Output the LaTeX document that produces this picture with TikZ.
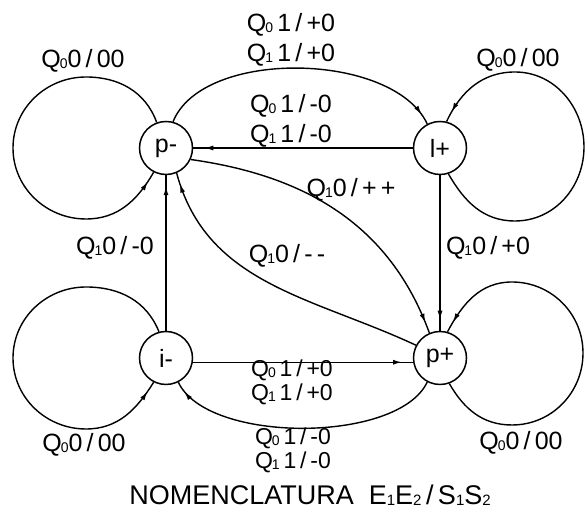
\documentclass[tikz,border=0pt]{standalone}
\usepackage{fontspec}
\setmainfont{Liberation Sans}
\usetikzlibrary{arrows.meta,decorations.markings}

% Q with a small index, as in Q0, Q1
\newcommand\Qn[1]{Q\kern-1pt\raisebox{-1pt}{\fontsize{14}{14}\selectfont #1}}
% small lowered index for the nomenclature line
\newcommand\lowidx[1]{\raisebox{-1pt}{\fontsize{15}{15}\selectfont #1}}

\begin{document}
\begin{tikzpicture}[x=1pt,y=1pt,
  state/.style={circle,draw,line width=1.5pt,minimum size=53pt,inner sep=0pt,
    font=\fontsize{25}{25}\selectfont},
  link/.style={line width=1.4pt},
  headnear/.style={postaction={decorate},
    decoration={markings,mark=at position -11pt with {\arrow{Latex[length=9pt,width=5pt]}}}},
  lbl/.style={inner sep=0pt,anchor=base,font=\fontsize{25}{25}\selectfont},
  tight/.style={lbl,font=\fontsize{23}{23}\selectfont}]
\useasboundingbox (0,0) rectangle (587,513);

% states
\node[state] (pm) at (166,365) {p-};
\node[state] (lp) at (440,365) {l+};
\node[state] (im) at (166,155) {i-};
\node[state] (pp) at (440,155) {p+};

% self loops
\draw[link,headnear] (pm.110) to[out=110,in=0] (86,436) to[out=180,in=90] (13,365)
  to[out=270,in=180] (86,294) to[out=0,in=240] (pm.243);
\draw[link,headnear] (lp.-72) to[out=-60,in=180] (515,292) to[out=0,in=270] (584,366)
  to[out=90,in=0] (515,441) to[out=180,in=65] (lp.76);
\draw[link,headnear] (im.105) to[out=112,in=0] (86,226) to[out=180,in=90] (13,155)
  to[out=270,in=180] (86,84) to[out=0,in=238] (im.243);
\draw[link,headnear] (pp.-70) to[out=-60,in=180] (512,88) to[out=0,in=270] (583,160)
  to[out=90,in=0] (512,231) to[out=180,in=62] (pp.74);

% transitions between states
\draw[link,headnear] (pm.75) to[out=68,in=115,looseness=0.8] (lp.118);
\draw[link,headnear] (lp) -- (pm);
\draw[link,headnear] (pm.-25) to[out=-8,in=110] (pp.113);
\draw[link,headnear] (pp.152) to[out=155,in=-75] (pm.-67);
\draw[link,headnear] (im) -- (pm);
\draw[link,headnear] (lp) -- (pp);
\draw[link,headnear] (im.-9) -- (pp.189);
\draw[link,headnear] (pp.-118) to[out=-115,in=-65,looseness=0.7] (im.-63);

% labels
\node[lbl] (t1) at (291,481) {\Qn{0}\,1\,/\,+0};
\node[lbl] (t2) at (291,451) {\Qn{1}\,1\,/\,+0};
\node[lbl] (m1) at (291,400) {\Qn{0}\,1\,/\,-0};
\node[lbl] (m2) at (291,370) {\Qn{1}\,1\,/\,-0};
\node[lbl] (ltl) at (83,445) {\Qn{0}0\,/\,00};
\node[lbl] (ltr) at (518,446) {\Qn{0}0\,/\,00};
\node[lbl] (dpp) at (351,316) {\Qn{1}0\,/\,+\,+};
\node[lbl] (dmm) at (287,250) {\Qn{1}0\,/\,-\,-};
\node[lbl] (vl) at (115,258) {\Qn{1}0\,/\,-0};
\node[lbl] (vr) at (488,258) {\Qn{1}0\,/\,+0};
\node[tight] (b1) at (292,136) {\Qn{0}\,1\,/\,+0};
\node[tight] (b2) at (292,112) {\Qn{1}\,1\,/\,+0};
\node[tight] (b3) at (293,68) {\Qn{0}\,1\,/\,-0};
\node[tight] (b4) at (293,44) {\Qn{1}\,1\,/\,-0};
\node[lbl] (lbl) at (84,61) {\Qn{0}0\,/\,00};
\node[lbl] (lbr) at (521,63) {\Qn{0}0\,/\,00};
\node[lbl,font=\fontsize{27}{27}\selectfont] (nom) at (310,8)
  {NOMENCLATURA\ \ E\lowidx{1}E\lowidx{2}\,/\,S\lowidx{1}S\lowidx{2}};
\end{tikzpicture}
\end{document}
